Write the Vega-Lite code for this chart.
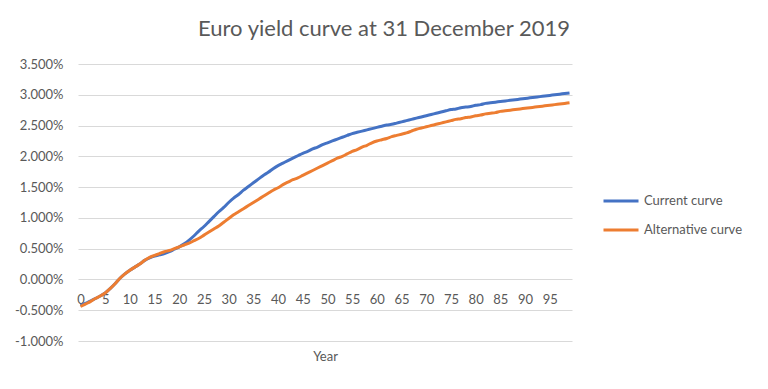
{
  "$schema": "https://vega.github.io/schema/vega-lite/v6.json",
  "autosize": "none",
  "width": 494,
  "height": 277,
  "padding": {"left": 78, "top": 64, "right": 196, "bottom": 48},
  "background": "white",
  "title": {
    "text": "Euro yield curve at 31 December 2019",
    "anchor": "middle",
    "frame": "group",
    "dx": 59,
    "dy": 20,
    "baseline": "alphabetic",
    "offset": 20,
    "font": "Lato",
    "fontSize": 22,
    "fontWeight": "normal",
    "color": "#595959"
  },
  "config": {
    "view": {"stroke": null},
    "font": "Lato"
  },
  "data": {
    "values": [
      {"year":0,"Current curve":-0.42,"Alternative curve":-0.44},
      {"year":1,"Current curve":-0.39,"Alternative curve":-0.40},
      {"year":2,"Current curve":-0.35,"Alternative curve":-0.36},
      {"year":3,"Current curve":-0.31,"Alternative curve":-0.31},
      {"year":4,"Current curve":-0.27,"Alternative curve":-0.27},
      {"year":5,"Current curve":-0.22,"Alternative curve":-0.22},
      {"year":6,"Current curve":-0.15,"Alternative curve":-0.15},
      {"year":7,"Current curve":-0.07,"Alternative curve":-0.07},
      {"year":8,"Current curve":0.02,"Alternative curve":0.02},
      {"year":9,"Current curve":0.09,"Alternative curve":0.09},
      {"year":10,"Current curve":0.15,"Alternative curve":0.15},
      {"year":11,"Current curve":0.20,"Alternative curve":0.20},
      {"year":12,"Current curve":0.25,"Alternative curve":0.25},
      {"year":13,"Current curve":0.31,"Alternative curve":0.31},
      {"year":14,"Current curve":0.35,"Alternative curve":0.36},
      {"year":15,"Current curve":0.38,"Alternative curve":0.39},
      {"year":16,"Current curve":0.40,"Alternative curve":0.42},
      {"year":17,"Current curve":0.42,"Alternative curve":0.45},
      {"year":18,"Current curve":0.45,"Alternative curve":0.47},
      {"year":19,"Current curve":0.49,"Alternative curve":0.50},
      {"year":20,"Current curve":0.53,"Alternative curve":0.53},
      {"year":21,"Current curve":0.58,"Alternative curve":0.56},
      {"year":22,"Current curve":0.64,"Alternative curve":0.59},
      {"year":23,"Current curve":0.71,"Alternative curve":0.63},
      {"year":24,"Current curve":0.79,"Alternative curve":0.67},
      {"year":25,"Current curve":0.86,"Alternative curve":0.72},
      {"year":26,"Current curve":0.94,"Alternative curve":0.77},
      {"year":27,"Current curve":1.02,"Alternative curve":0.82},
      {"year":28,"Current curve":1.10,"Alternative curve":0.87},
      {"year":29,"Current curve":1.17,"Alternative curve":0.93},
      {"year":30,"Current curve":1.25,"Alternative curve":0.99},
      {"year":31,"Current curve":1.32,"Alternative curve":1.05},
      {"year":32,"Current curve":1.38,"Alternative curve":1.10},
      {"year":33,"Current curve":1.45,"Alternative curve":1.15},
      {"year":34,"Current curve":1.51,"Alternative curve":1.20},
      {"year":35,"Current curve":1.57,"Alternative curve":1.25},
      {"year":36,"Current curve":1.63,"Alternative curve":1.30},
      {"year":37,"Current curve":1.69,"Alternative curve":1.35},
      {"year":38,"Current curve":1.74,"Alternative curve":1.40},
      {"year":39,"Current curve":1.80,"Alternative curve":1.45},
      {"year":40,"Current curve":1.85,"Alternative curve":1.49},
      {"year":41,"Current curve":1.89,"Alternative curve":1.54},
      {"year":42,"Current curve":1.93,"Alternative curve":1.58},
      {"year":43,"Current curve":1.97,"Alternative curve":1.62},
      {"year":44,"Current curve":2.01,"Alternative curve":1.65},
      {"year":45,"Current curve":2.05,"Alternative curve":1.69},
      {"year":46,"Current curve":2.08,"Alternative curve":1.73},
      {"year":47,"Current curve":2.12,"Alternative curve":1.77},
      {"year":48,"Current curve":2.15,"Alternative curve":1.81},
      {"year":49,"Current curve":2.19,"Alternative curve":1.85},
      {"year":50,"Current curve":2.22,"Alternative curve":1.89},
      {"year":51,"Current curve":2.25,"Alternative curve":1.93},
      {"year":52,"Current curve":2.28,"Alternative curve":1.97},
      {"year":53,"Current curve":2.31,"Alternative curve":2.00},
      {"year":54,"Current curve":2.34,"Alternative curve":2.04},
      {"year":55,"Current curve":2.37,"Alternative curve":2.08},
      {"year":56,"Current curve":2.39,"Alternative curve":2.11},
      {"year":57,"Current curve":2.41,"Alternative curve":2.15},
      {"year":58,"Current curve":2.43,"Alternative curve":2.18},
      {"year":59,"Current curve":2.45,"Alternative curve":2.22},
      {"year":60,"Current curve":2.47,"Alternative curve":2.25},
      {"year":61,"Current curve":2.49,"Alternative curve":2.27},
      {"year":62,"Current curve":2.51,"Alternative curve":2.29},
      {"year":63,"Current curve":2.52,"Alternative curve":2.32},
      {"year":64,"Current curve":2.54,"Alternative curve":2.34},
      {"year":65,"Current curve":2.56,"Alternative curve":2.36},
      {"year":66,"Current curve":2.58,"Alternative curve":2.38},
      {"year":67,"Current curve":2.60,"Alternative curve":2.41},
      {"year":68,"Current curve":2.62,"Alternative curve":2.44},
      {"year":69,"Current curve":2.64,"Alternative curve":2.46},
      {"year":70,"Current curve":2.66,"Alternative curve":2.48},
      {"year":71,"Current curve":2.68,"Alternative curve":2.50},
      {"year":72,"Current curve":2.70,"Alternative curve":2.52},
      {"year":73,"Current curve":2.72,"Alternative curve":2.54},
      {"year":74,"Current curve":2.74,"Alternative curve":2.56},
      {"year":75,"Current curve":2.76,"Alternative curve":2.58},
      {"year":76,"Current curve":2.77,"Alternative curve":2.60},
      {"year":77,"Current curve":2.79,"Alternative curve":2.61},
      {"year":78,"Current curve":2.80,"Alternative curve":2.63},
      {"year":79,"Current curve":2.81,"Alternative curve":2.64},
      {"year":80,"Current curve":2.83,"Alternative curve":2.66},
      {"year":81,"Current curve":2.84,"Alternative curve":2.67},
      {"year":82,"Current curve":2.86,"Alternative curve":2.69},
      {"year":83,"Current curve":2.87,"Alternative curve":2.70},
      {"year":84,"Current curve":2.88,"Alternative curve":2.71},
      {"year":85,"Current curve":2.89,"Alternative curve":2.73},
      {"year":86,"Current curve":2.90,"Alternative curve":2.74},
      {"year":87,"Current curve":2.91,"Alternative curve":2.75},
      {"year":88,"Current curve":2.92,"Alternative curve":2.76},
      {"year":89,"Current curve":2.93,"Alternative curve":2.77},
      {"year":90,"Current curve":2.94,"Alternative curve":2.78},
      {"year":91,"Current curve":2.95,"Alternative curve":2.79},
      {"year":92,"Current curve":2.96,"Alternative curve":2.80},
      {"year":93,"Current curve":2.97,"Alternative curve":2.81},
      {"year":94,"Current curve":2.98,"Alternative curve":2.82},
      {"year":95,"Current curve":2.99,"Alternative curve":2.83},
      {"year":96,"Current curve":3.00,"Alternative curve":2.84},
      {"year":97,"Current curve":3.01,"Alternative curve":2.85},
      {"year":98,"Current curve":3.02,"Alternative curve":2.86},
      {"year":99,"Current curve":3.03,"Alternative curve":2.87}
    ]
  },
  "transform": [
    {"fold": ["Current curve", "Alternative curve"], "as": ["curve", "yield_pct"]}
  ],
  "mark": {"type": "line", "strokeWidth": 3, "interpolate": "monotone"},
  "encoding": {
    "x": {
      "field": "year",
      "type": "quantitative",
      "scale": {"domain": [-0.5, 99.5], "nice": false, "zero": false},
      "axis": {
        "values": [0,5,10,15,20,25,30,35,40,45,50,55,60,65,70,75,80,85,90,95],
        "grid": false,
        "domain": false,
        "ticks": false,
        "tickSize": 0,
        "labelPadding": -48,
        "labelFontSize": 13,
        "labelColor": "#595959",
        "labelFont": "Lato",
        "title": "Year",
        "titleFont": "Lato",
        "titleFontSize": 13,
        "titleFontWeight": "normal",
        "titleColor": "#595959",
        "titleY": 9,
        "titleBaseline": "top"
      }
    },
    "y": {
      "field": "yield_pct",
      "type": "quantitative",
      "scale": {"domain": [-1, 3.5], "nice": false, "zero": false},
      "axis": {
        "values": [-1,-0.5,0,0.5,1,1.5,2,2.5,3,3.5],
        "labelExpr": "(datum.value < 0 ? '-' : '') + format(abs(datum.value), '.3f') + '%'",
        "grid": true,
        "gridColor": "#D9D9D9",
        "gridWidth": 1,
        "domain": false,
        "ticks": false,
        "tickSize": 0,
        "labelPadding": 15,
        "labelFontSize": 13,
        "labelColor": "#595959",
        "labelFont": "Lato",
        "title": null
      }
    },
    "color": {
      "field": "curve",
      "type": "nominal",
      "sort": ["Current curve", "Alternative curve"],
      "scale": {"domain": ["Current curve", "Alternative curve"], "range": ["#4472C4", "#ED7D31"]},
      "legend": {
        "title": null,
        "orient": "none",
        "legendX": 524,
        "legendY": 129,
        "padding": 0,
        "symbolType": "stroke",
        "symbolSize": 1225,
        "symbolStrokeWidth": 3,
        "clipHeight": 16,
        "rowPadding": 13,
        "labelOffset": 4,
        "labelFontSize": 13,
        "labelFont": "Lato",
        "labelColor": "#595959"
      }
    }
  }
}
